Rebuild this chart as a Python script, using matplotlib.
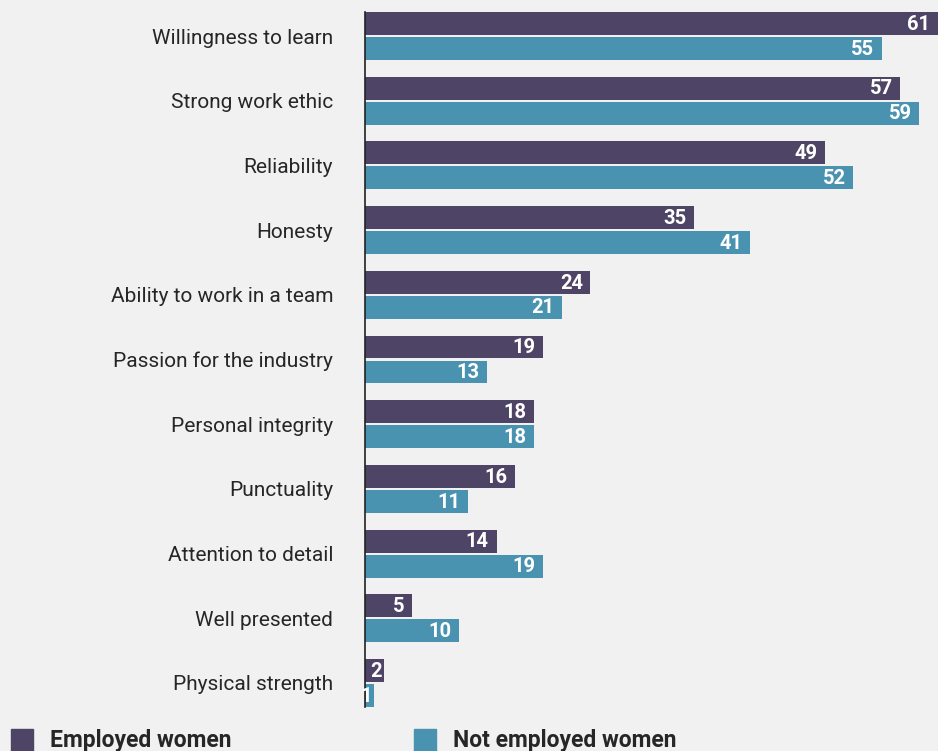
import numpy as np
import matplotlib.pyplot as plt
from matplotlib.patches import Rectangle

# survey results (% of respondents)
categories = ['Willingness to learn', 'Strong work ethic', 'Reliability', 'Honesty',
              'Ability to work in a team', 'Passion for the industry', 'Personal integrity',
              'Punctuality', 'Attention to detail', 'Well presented', 'Physical strength']
employed = [61, 57, 49, 35, 24, 19, 18, 16, 14, 5, 2]
not_employed = [55, 59, 52, 41, 21, 13, 18, 11, 19, 10, 1]
series_names = ['Employed women', 'Not employed women']

bg = '#f0f1f0'
c_emp = '#4e4566'
c_not = '#4a93b0'
txt = '#262626'

plt.rcParams['font.family'] = ['Roboto', 'DejaVu Sans']

fig = plt.figure(figsize=(9.38, 7.51), dpi=100, facecolor=bg)
ax = fig.add_axes([365/938, 44/751, 1 - 365/938, 695/751])
ax.set_facecolor(bg)

y = np.arange(len(categories))
h = 0.355
off = 0.193
b1 = ax.barh(y - off, employed, height=h, color=c_emp)
b2 = ax.barh(y + off, not_employed, height=h, color=c_not)

# value labels inside the bar ends (tighter padding on the tiny bars)
for bars, vals in [(b1, employed), (b2, not_employed)]:
    for bar, v in zip(bars, vals):
        pad = -1.5 if v < 3 else -5.5
        ax.annotate(str(v), (v, bar.get_y() + bar.get_height()/2),
                    xytext=(pad, -0.5), textcoords='offset points',
                    ha='right', va='center', color='white',
                    fontsize=14.5, fontweight='bold')

ax.set_xlim(0, 61)
ax.set_ylim(len(categories) - 1 + 0.371, -0.371)
ax.set_yticks(y)
ax.set_yticklabels(categories, fontsize=15, color=txt)
ax.tick_params(axis='y', length=0, pad=23)
ax.set_xticks([])
for s in ['top', 'right', 'bottom']:
    ax.spines[s].set_visible(False)
ax.spines['left'].set_color('#222222')
ax.spines['left'].set_linewidth(1.2)

# legend along the bottom edge
for x0, col, name in [(11, c_emp, series_names[0]), (414, c_not, series_names[1])]:
    fig.patches.append(Rectangle((x0/938, 0), 22/938, 22/751, transform=fig.transFigure,
                                 color=col))
    fig.text((x0 + 39)/938, 4/751, name, fontsize=16.5, fontweight='bold',
             color=txt, ha='left', va='baseline')

fig.savefig('out.png', dpi=100, facecolor=bg)
